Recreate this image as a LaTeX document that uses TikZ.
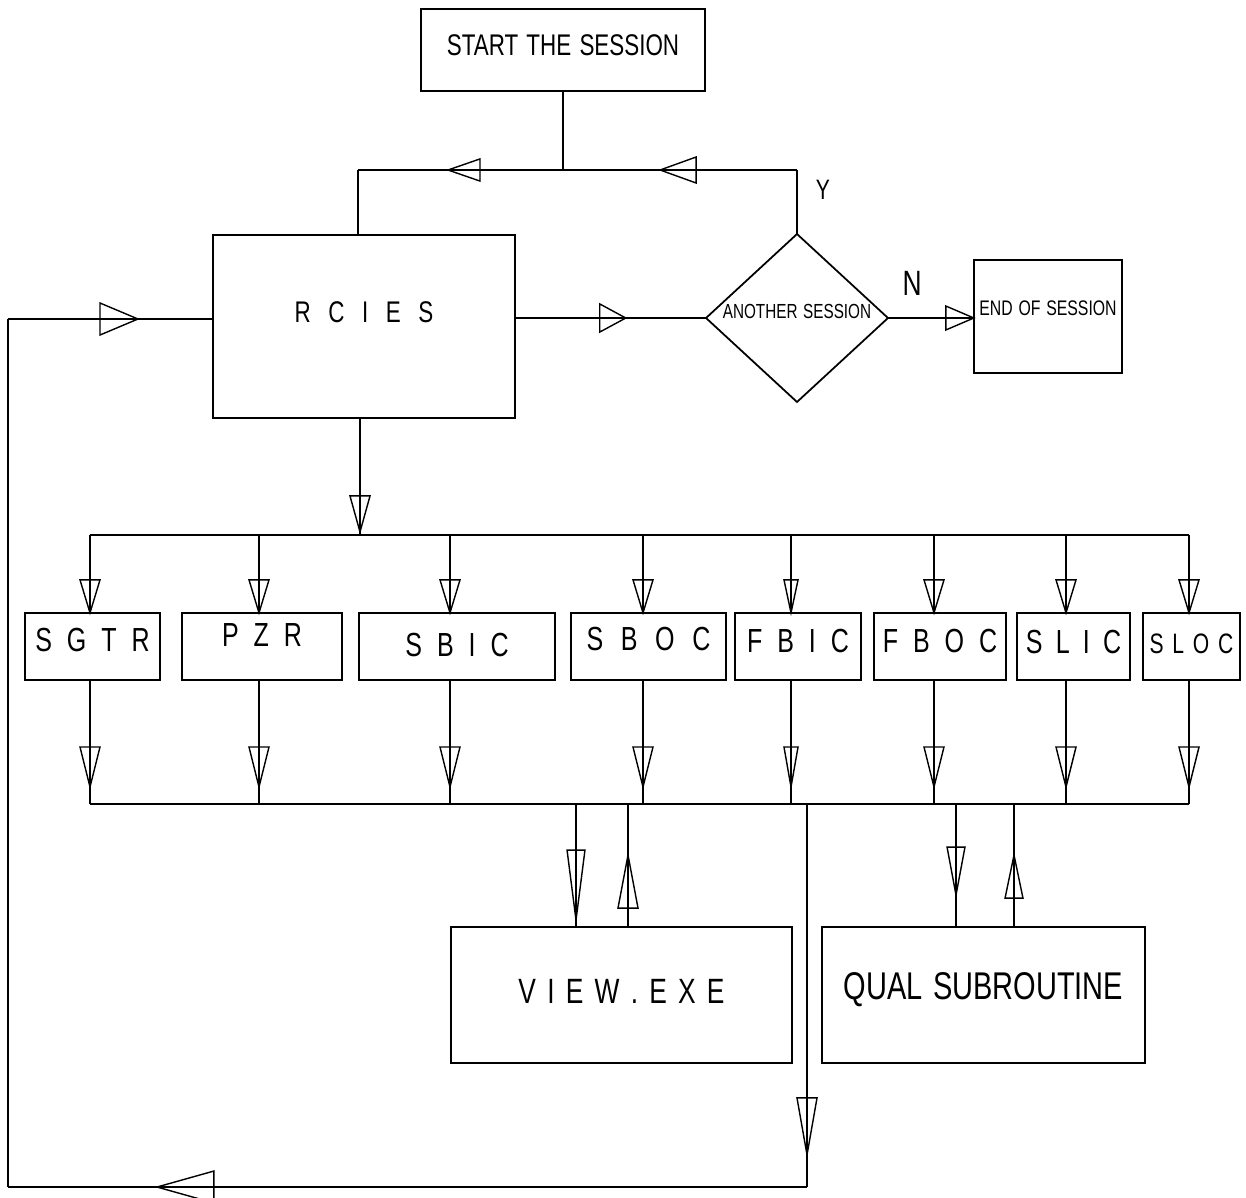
\documentclass[tikz,border=0pt]{standalone}
\usepackage{fontspec}
\setmainfont{Liberation Sans}[FakeStretch=0.75]
\usetikzlibrary{shapes.geometric,decorations.markings}
\newcommand\liftt[2]{\raisebox{#1}[0pt][0pt]{#2}}
\begin{document}
\begin{tikzpicture}[x=0.02cm,y=-0.02cm,line width=0.9pt,
  box/.style={draw,line width=1.2pt,inner sep=0pt,outer sep=0pt},
  fs/.style n args={2}{font={\fontsize{#1}{#1}\selectfont\spaceskip=#2 plus 0pt minus 0pt\relax}},
  tri/.style n args={3}{postaction={decorate,decoration={markings,
     mark=at position #1 with {\draw[line width=0.8pt] (0pt,0pt) -- (-#2,#3) -- (-#2,-#3) -- cycle;}}}}]
\useasboundingbox (0,0) rectangle (1246,1197);

% ---- boxes ----
\node[box,minimum width=5.68cm,minimum height=1.64cm,fs={17}{4.7pt}] (start) at (563,50) {\liftt{-3.3pt}{START THE SESSION}};
\node[box,minimum width=6.04cm,minimum height=3.66cm,fs={17}{10pt}] (rcies) at (364,326.5) {\liftt{2.2pt}{R C I E S}};
\node[draw,line width=1pt,shape=diamond,inner sep=0pt,outer sep=0pt,minimum width=3.64cm,minimum height=3.36cm,fs={11.6}{3.2pt}] (dia) at (797,318) {\liftt{-0.45pt}{ANOTHER SESSION}};
\node[box,minimum width=2.96cm,minimum height=2.26cm,fs={12}{3.3pt}] (endb) at (1048,316.5) {\liftt{0.8pt}{END OF SESSION}};

\node[box,minimum width=2.7cm,minimum height=1.34cm,fs={19}{8.5pt}] (sgtr) at (92.5,646.5) {\liftt{-3.1pt}{S G T R}};
\node[box,minimum width=3.2cm,minimum height=1.34cm,fs={19}{8.5pt}] (pzr) at (262,646.5) {\liftt{0pt}{P Z R}};
\node[box,minimum width=3.92cm,minimum height=1.34cm,fs={19}{8.5pt}] (sbic) at (457,646.5) {\liftt{-5.7pt}{S B I C}};
\node[box,minimum width=3.1cm,minimum height=1.34cm,fs={19}{10pt}] (sboc) at (648.5,646.5) {\liftt{-2.5pt}{S B O C}};
\node[box,minimum width=2.52cm,minimum height=1.34cm,fs={19}{8.5pt}] (fbic) at (798,646.5) {\liftt{-3.4pt}{F B I C}};
\node[box,minimum width=2.64cm,minimum height=1.34cm,fs={19}{8.5pt}] (fboc) at (940,646.5) {\liftt{-3.4pt}{F B O C}};
\node[box,minimum width=2.26cm,minimum height=1.34cm,fs={19}{7.5pt}] (slic) at (1073.5,646.5) {\liftt{-3.7pt}{S L I C}};
\node[box,minimum width=1.94cm,minimum height=1.34cm,fs={16}{5pt}] (sloc) at (1191.5,646.5) {\liftt{-3.7pt}{S L O C}};

\node[box,minimum width=6.82cm,minimum height=2.72cm,fs={20}{6.4pt}] (view) at (621.5,995) {\liftt{-4.6pt}{V I E W . E X E}};
\node[box,minimum width=6.46cm,minimum height=2.72cm,fs={22}{6pt}] (qual) at (983.5,995) {\liftt{-2.8pt}{QUAL SUBROUTINE}};

\node[fs={16}{4pt}] (ylab) at (823,190) {Y};
\node[fs={20}{5pt}] (nlab) at (912,283) {N};

% ---- top loop ----
\coordinate (j1) at (563,170);
\coordinate (jl) at (358,170);
\coordinate (jr) at (797,170);
\draw (start.south) -- (j1);
\draw[tri={0.561}{18.2pt}{6.3pt}] (j1) -- (jl);
\draw (jl) -- (jl |- rcies.north);
\draw (dia.north) -- (jr);
\draw[tri={0.585}{20.5pt}{7.4pt}] (jr) -- (j1);

\draw[tri={0.58}{14.8pt}{8pt}] (dia.west -| rcies.east) -- (dia.west);
\draw[tri={0.998}{15.9pt}{6.8pt}] (dia.east) -- (dia.east -| endb.west);

% ---- feedback loop ----
\coordinate (fbT) at (8,319);
\coordinate (fbB) at (8,1187);
\coordinate (r0) at (807,804);
\coordinate (rB) at (807,1187);
\draw[tri={0.634}{21.6pt}{9.1pt}] (fbT) -- (fbT -| rcies.west);
\draw[tri={0.916}{32.4pt}{5.7pt}] (r0) -- (rB);
\draw[tri={0.8135}{32.4pt}{9.1pt}] (rB) -- (fbB);
\draw (fbB) -- (fbT);

% ---- distribution buses ----
\coordinate (rd) at (360,535);
\draw[tri={0.974}{20.5pt}{5.7pt}] (rd |- rcies.south) -- (rd);
\foreach \n/\x/\w [count=\i] in {sgtr/90/5.7pt,pzr/259/5.7pt,sbic/450/5.7pt,sboc/643/5.7pt,fbic/791/4pt,fboc/934/5.7pt,slic/1066/5.7pt,sloc/1189/5.7pt}{
  \coordinate (t\i) at (\x,535);
  \coordinate (b\i) at (\x,804);
  \draw[tri={0.998}{18.8pt}{\w}] (t\i) -- (t\i |- \n.north);
  \draw[tri={0.863}{22.8pt}{\w}] (t\i |- \n.south) -- (b\i);
}
\draw (t1) -- (t8);
\draw (b1) -- (b8);

% ---- VIEW.EXE and QUAL ----
\coordinate (v1) at (576,804);
\coordinate (v2) at (628,804);
\coordinate (q1) at (956,804);
\coordinate (q2) at (1014,804);
\draw[tri={0.943}{39.8pt}{5.1pt}] (v1) -- (v1 |- view.north);
\draw[tri={0.585}{30.2pt}{5.7pt}] (v2 |- view.north) -- (v2);
\draw[tri={0.74}{27.3pt}{5.1pt}] (q1) -- (q1 |- qual.north);
\draw[tri={0.585}{24.5pt}{5.1pt}] (q2 |- qual.north) -- (q2);
\end{tikzpicture}
\end{document}
